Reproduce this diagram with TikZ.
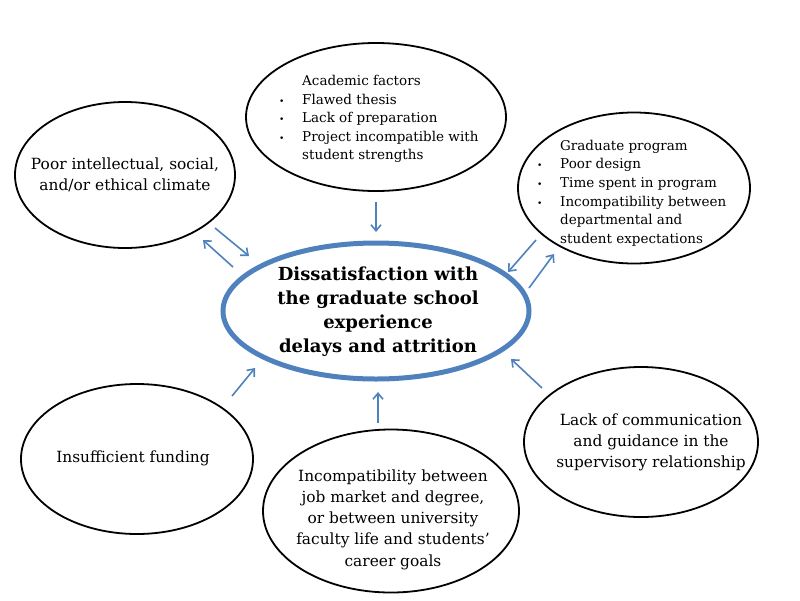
\documentclass[tikz,border=0pt]{standalone}
\usepackage{fontspec}
\setmainfont{DejaVu Serif}
\usepackage{xcolor}
\usetikzlibrary{shapes,arrows.meta,positioning,calc}
\definecolor{ppblue}{RGB}{79,129,189}
\newcommand{\bul}{\makebox[23pt][l]{\fontsize{9}{9}\selectfont\textbullet}}
\newcommand{\ind}{\hspace*{23pt}}

\begin{document}
\begin{tikzpicture}[
    x=1pt, y=-1pt,
    bubble/.style={ellipse, draw, line width=1.8pt, inner sep=0pt},
    txt/.style={inner sep=0pt, align=center, font=\fontsize{15.4}{21.3}\selectfont},
    listtxt/.style={inner sep=0pt, align=left, anchor=west, font=\fontsize{13.5}{18.6}\selectfont},
    arrow/.style={-{Straight Barb[length=6pt,width=10pt]}, draw=ppblue, line width=1.6pt}
]
\useasboundingbox (0,0) rectangle (800,600);

% Central problem
\node[ellipse, draw=ppblue, line width=5pt, inner sep=0pt, minimum width=306pt, minimum height=136pt] (core) at (376,311) {};
\node[txt, font=\bfseries\fontsize{18}{24}\selectfont] (coretxt) at (378,312) {Dissatisfaction with\\the graduate school\\experience\\delays and attrition};

% Causes
\node[bubble, minimum width=220pt, minimum height=146pt] (climate) at (125,175) {};
\node[txt] (climatetxt) at (125,175) {Poor intellectual, social,\\and/or ethical climate};

\node[bubble, minimum width=260pt, minimum height=148pt] (acad) at (376,117) {};
\node[listtxt] (acadtxt) at (279,119) {\ind Academic factors\\\bul Flawed thesis\\\bul Lack of preparation\\\bul Project incompatible with\\\ind student strengths};

\node[bubble, minimum width=232pt, minimum height=151pt] (prog) at (634,188) {};
\node[listtxt] (progtxt) at (537,193) {\ind Graduate program\\\bul Poor design\\\bul Time spent in program\\\bul Incompatibility between\\\ind departmental and\\\ind student expectations};

\node[bubble, minimum width=234pt, minimum height=150pt] (comm) at (641,442) {};
\node[txt] (commtxt) at (651,442.5) {Lack of communication\\and guidance in the\\supervisory relationship};

\node[bubble, minimum width=256pt, minimum height=163pt] (market) at (391,511) {};
\node[txt] (markettxt) at (393,519.5) {Incompatibility between\\job market and degree,\\or between university\\faculty life and students'\\career goals};

\node[bubble, minimum width=232pt, minimum height=150pt] (funding) at (137,459) {};
\node[txt] (fundingtxt) at (133,458) {Insufficient funding};

% Arrow ends
\coordinate (acadout) at (376,202);   \coordinate (corein1) at (376,232);
\coordinate (climout) at (215,228);   \coordinate (corein2) at (249,256);
\coordinate (coreout1) at (233,267);  \coordinate (climin) at (203,240);
\coordinate (progout) at (536,240);   \coordinate (corein3) at (508,272);
\coordinate (coreout2) at (529,288);  \coordinate (progin) at (554,254);
\coordinate (commout) at (542,388);   \coordinate (corein4) at (511,359);
\coordinate (marketout) at (378,423); \coordinate (corein5) at (378,392);
\coordinate (fundout) at (232,396);   \coordinate (corein6) at (255,368);

% Arrows
\draw[arrow] (acadout) -- (corein1);
\draw[arrow] (climout) -- (corein2);
\draw[arrow] (coreout1) -- (climin);
\draw[arrow] (progout) -- (corein3);
\draw[arrow] (coreout2) -- (progin);
\draw[arrow] (commout) -- (corein4);
\draw[arrow] (marketout) -- (corein5);
\draw[arrow] (fundout) -- (corein6);

\end{tikzpicture}
\end{document}
